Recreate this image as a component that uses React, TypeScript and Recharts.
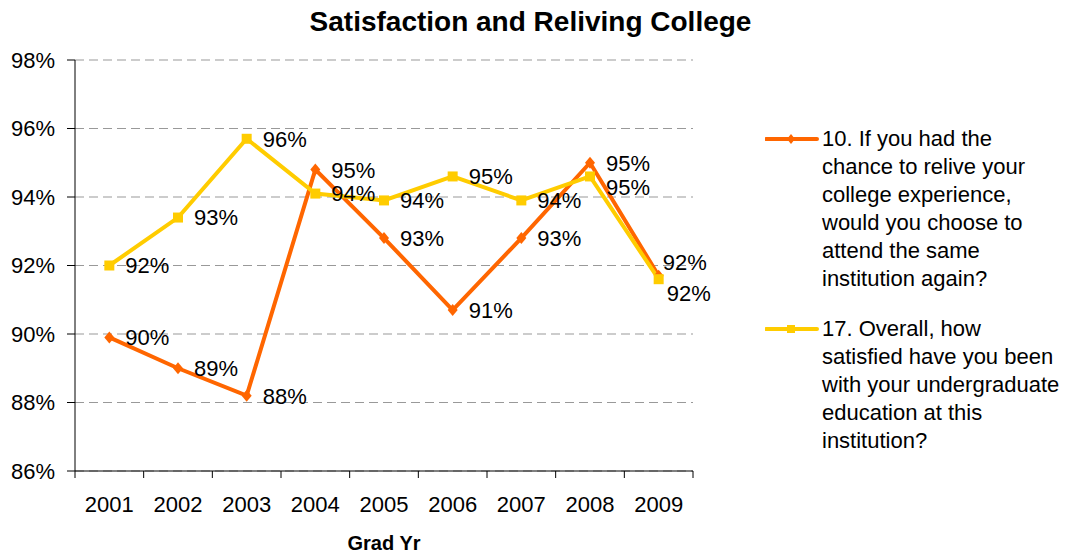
import React from 'react';
import { LineChart, Line, XAxis, YAxis, CartesianGrid, LabelList, Label } from 'recharts';

const years = ['2001', '2002', '2003', '2004', '2005', '2006', '2007', '2008', '2009'];
const relive = [89.9, 89.0, 88.2, 94.8, 92.8, 90.7, 92.8, 95.0, 91.7];
const satisfied = [92.0, 93.4, 95.7, 94.1, 93.9, 94.6, 93.9, 94.6, 91.6];
const yTicks = [86, 88, 90, 92, 94, 96, 98];

const reliveName =
  '10. If you had the\nchance to relive your\ncollege experience,\nwould you choose to\nattend the same\ninstitution again?';
const satisfiedName =
  '17. Overall, how\nsatisfied have you been\nwith your undergraduate\neducation at this\ninstitution?';

const data = years.map((year, i) => ({ year, relive: relive[i], satisfied: satisfied[i] }));

const ORANGE = '#FF6600';
const YELLOW = '#FFCC00';
const FONT = '"Liberation Sans", Arial, sans-serif';
const TICK_GAP = 25;

// hand-moved labels, as in the original sheet
const labelNudge: Record<string, [number, number]> = {
  'satisfied-7': [0, 11],
  'relive-8': [-12, -14],
  'satisfied-8': [-8, 14],
};

const makeLabel = (series: string) => (props: any) => {
  const { x, y, value, index } = props;
  const [dx, dy] = labelNudge[`${series}-${index}`] || [0, 0];
  return (
    <text x={x + 16 + dx} y={y + dy} dy="0.36em" fontSize={22} fill="#000">
      {`${Math.round(value)}%`}
    </text>
  );
};

// year label plus the Excel-style tick marks between categories
const YearTick = (props: any) => {
  const { x, y, payload, index, width, visibleTicksCount } = props;
  const count = visibleTicksCount || years.length;
  const half = (width || 618) / count / 2;
  const axisY = y - TICK_GAP;
  return (
    <g>
      <line x1={x - half} y1={axisY} x2={x - half} y2={axisY + 7} stroke="#000" />
      {index === count - 1 && <line x1={x + half} y1={axisY} x2={x + half} y2={axisY + 7} stroke="#000" />}
      <text x={x} y={y} dy="0.71em" textAnchor="middle" fontSize={22} fill="#000">
        {payload.value}
      </text>
    </g>
  );
};

const Diamond = ({ cx, cy }: any) => (
  <polygon
    points={`${cx},${cy - 6} ${cx + 5},${cy} ${cx},${cy + 6} ${cx - 5},${cy}`}
    fill={ORANGE}
  />
);

const Square = ({ cx, cy }: any) => <rect x={cx - 5} y={cy - 5} width={10} height={10} fill={YELLOW} />;

const LegendItem = ({ top, color, square, text }: any) => (
  <div style={{ position: 'absolute', left: 765, top, width: 304 }}>
    <svg width={54} height={28} style={{ position: 'absolute', left: 0, top: 0 }}>
      <line x1={1} y1={14} x2={52} y2={14} stroke={color} strokeWidth={4} strokeLinecap="round" />
      {square ? (
        <rect x={22} y={10} width={8} height={8} fill={color} />
      ) : (
        <polygon points="26,9 30,14 26,19 22,14" fill={color} />
      )}
    </svg>
    <div style={{ marginLeft: 57, fontSize: 22, lineHeight: '28px', whiteSpace: 'pre-line', color: '#000' }}>
      {text}
    </div>
  </div>
);

export default function App() {
  return (
    <div
      style={{
        position: 'absolute',
        left: 0,
        top: 0,
        width: 1069,
        height: 554,
        background: '#fff',
        fontFamily: FONT,
      }}
    >
      <div
        style={{
          position: 'absolute',
          left: 0,
          top: 6,
          width: 1061,
          textAlign: 'center',
          fontSize: 28,
          fontWeight: 'bold',
          lineHeight: '32px',
        }}
      >
        Satisfaction and Reliving College
      </div>

      <LineChart
        width={1069}
        height={554}
        data={data}
        margin={{ top: 60, right: 376, bottom: 0, left: 0 }}
      >
        <CartesianGrid vertical={false} stroke="#999" strokeDasharray="9 5" />
        <XAxis
          dataKey="year"
          scale="band"
          interval={0}
          axisLine={{ stroke: '#000' }}
          tickLine={false}
          tickSize={0}
          tickMargin={TICK_GAP}
          tick={<YearTick />}
          height={83}
        >
          <Label
            value="Grad Yr"
            position="insideBottom"
            offset={4}
            style={{ fontSize: 20, fontWeight: 'bold', fill: '#000' }}
          />
        </XAxis>
        <YAxis
          domain={[86, 98]}
          ticks={yTicks}
          width={75}
          axisLine={{ stroke: '#000' }}
          tickLine={{ stroke: '#000' }}
          tickSize={8}
          tickMargin={12}
          tick={{ fill: '#000', fontSize: 22 }}
          tickFormatter={(v) => `${v}%`}
        />
        <Line
          dataKey="relive"
          name="relive"
          stroke={ORANGE}
          strokeWidth={4}
          dot={(p: any) => <Diamond key={`d${p.index}`} {...p} />}
          isAnimationActive={false}
        >
          <LabelList dataKey="relive" content={makeLabel('relive')} />
        </Line>
        <Line
          dataKey="satisfied"
          name="satisfied"
          stroke={YELLOW}
          strokeWidth={4}
          dot={(p: any) => <Square key={`s${p.index}`} {...p} />}
          isAnimationActive={false}
        >
          <LabelList dataKey="satisfied" content={makeLabel('satisfied')} />
        </Line>
      </LineChart>

      <LegendItem top={125} color={ORANGE} text={reliveName} />
      <LegendItem top={315} color={YELLOW} square text={satisfiedName} />
    </div>
  );
}
